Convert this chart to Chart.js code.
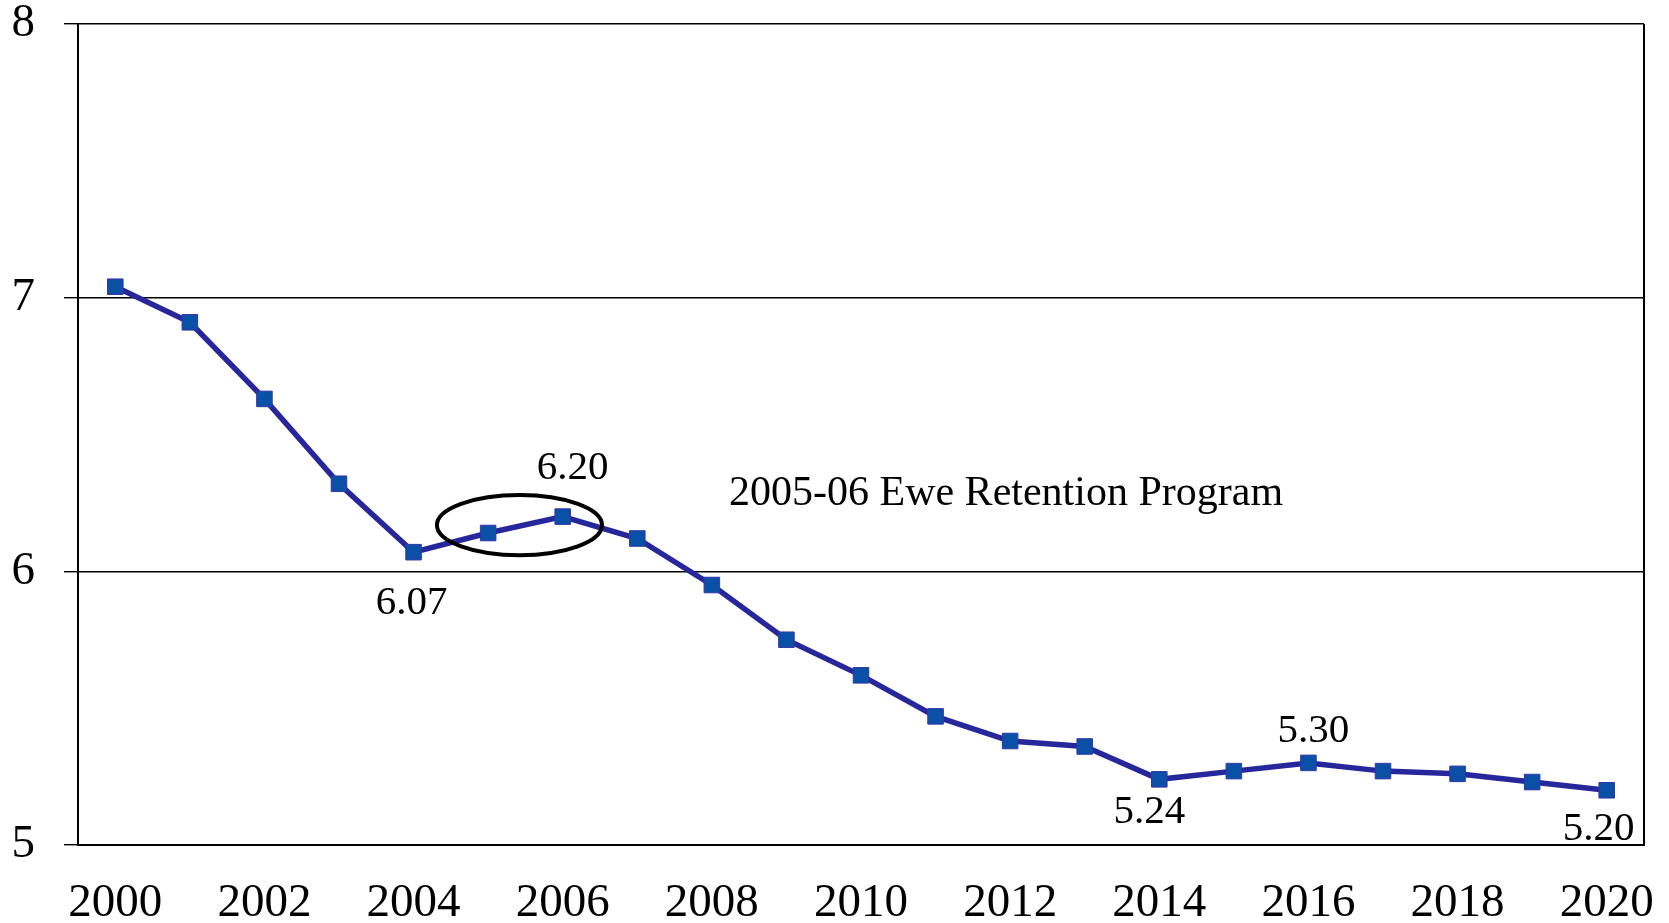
<!DOCTYPE html>
<html>
<head>
<meta charset="utf-8">
<script src="https://cdn.jsdelivr.net/npm/chart.js@4.4.1/dist/chart.umd.min.js"></script>
<style>
  html, body { margin: 0; padding: 0; background: #fff; }
  .chartBox { width: 1669px; height: 923px; }
</style>
</head>
<body>
<div class="chartBox">
  <canvas id="chart"></canvas>
</div>
<script>
const years = ["2000", "2001", "2002", "2003", "2004", "2005", "2006", "2007", "2008", "2009", "2010",
  "2011", "2012", "2013", "2014", "2015", "2016", "2017", "2018", "2019", "2020"];
const values = [7.04, 6.91, 6.63, 6.32, 6.07, 6.14, 6.20, 6.12, 5.95, 5.75, 5.62,
  5.47, 5.38, 5.36, 5.24, 5.27, 5.30, 5.27, 5.26, 5.23, 5.20];
const yTicks = [5, 6, 7, 8];
const labeledYears = ["2004", "2006", "2014", "2016", "2020"];
const noteText = "2005-06 Ewe Retention Program";

const FONT = "'Liberation Serif', 'Times New Roman', serif";

// where each value label sits relative to its marker (dx, dy to baseline)
const labelOffsets = {
  "2004": [-2, 62],
  "2006": [10, -38],
  "2014": [-10, 44],
  "2016": [5, -21],
  "2020": [-8, 50],
};

const annotations = {
  id: "annotations",
  afterDatasetsDraw(chart) {
    const { ctx, chartArea, scales: { x, y } } = chart;
    const meta = chart.getDatasetMeta(0);

    ctx.save();
    // right frame line
    ctx.strokeStyle = "#000";
    ctx.lineWidth = 2;
    ctx.beginPath();
    ctx.moveTo(chartArea.right, chartArea.top);
    ctx.lineTo(chartArea.right, chartArea.bottom);
    ctx.stroke();

    // ellipse round 2005-06
    const step = x.getPixelForValue(1) - x.getPixelForValue(0);
    const cx = x.getPixelForValue(5.42);
    const cy = y.getPixelForValue(6.169);
    const ry = y.getPixelForValue(6) - y.getPixelForValue(6.11);
    ctx.lineWidth = 4;
    ctx.beginPath();
    ctx.ellipse(cx, cy, step * 1.107, ry, 0, 0, Math.PI * 2);
    ctx.stroke();

    ctx.fillStyle = "#000";
    ctx.font = "41px " + FONT;
    ctx.textBaseline = "alphabetic";

    // value labels
    ctx.textAlign = "center";
    labeledYears.forEach((yr) => {
      const i = years.indexOf(yr);
      const pt = meta.data[i];
      const [dx, dy] = labelOffsets[yr];
      ctx.fillText(values[i].toFixed(2), pt.x + dx, pt.y + dy);
    });

    // note
    ctx.font = "42px " + FONT;
    ctx.textAlign = "left";
    ctx.fillText(noteText, x.getPixelForValue(8.23), y.getPixelForValue(6.242));
    ctx.restore();
  },
};

new Chart(document.getElementById("chart"), {
  type: "line",
  data: {
    labels: years,
    datasets: [
      {
        data: values,
        borderColor: "#27279c",
        borderWidth: 5.5,
        pointStyle: "rect",
        pointRadius: 11,
        pointBackgroundColor: "#0a50a6",
        pointBorderColor: "#3535a8",
        pointBorderWidth: 1,
        tension: 0,
      },
    ],
  },
  options: {
    responsive: true,
    maintainAspectRatio: false,
    animation: false,
    layout: { padding: { top: 24, right: 25, bottom: 0, left: 0 } },
    plugins: {
      legend: { display: false },
      tooltip: { enabled: false },
    },
    scales: {
      x: {
        offset: true,
        grid: { display: false, drawTicks: false },
        border: { display: true, color: "#000", width: 2 },
        ticks: {
          autoSkip: false,
          maxRotation: 0,
          padding: 35,
          color: "#000",
          font: { family: FONT, size: 47, lineHeight: 1 },
          callback: (v, i) => (Number(years[i]) % 2 === 0 ? years[i] : ""),
        },
        afterFit: (s) => {
          s.height = 78;
          s.paddingLeft = 0;
          s.paddingRight = 0;
        },
      },
      y: {
        min: 5,
        max: 8,
        afterBuildTicks: (s) => { s.ticks = yTicks.map((v) => ({ value: v })); },
        grid: { color: "#000", lineWidth: 1.4, drawTicks: true, tickLength: 14 },
        border: { display: true, color: "#000", width: 2 },
        ticks: {
          padding: 29,
          color: "#000",
          font: { family: FONT, size: 47, lineHeight: 1 },
        },
        afterFit: (s) => {
          s.width = 78;
          s.paddingTop = 0;
          s.paddingBottom = 0;
        },
      },
    },
  },
  plugins: [annotations],
});
</script>
</body>
</html>
